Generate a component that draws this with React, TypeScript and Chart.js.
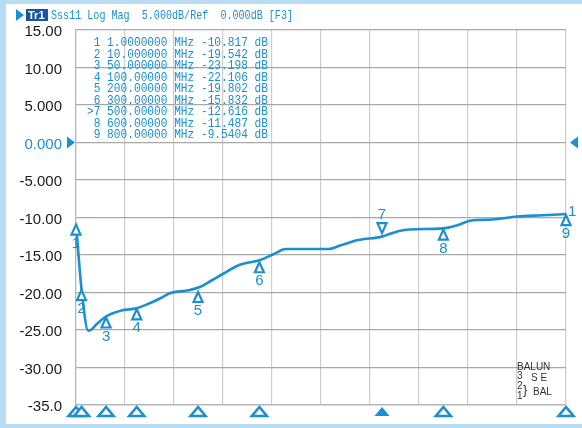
import React, { useEffect, useRef } from 'react';
import { Chart, registerables } from 'chart.js';

Chart.register(...registerables);

// Trace: S11 log magnitude (dB) vs frequency (MHz)
const freqMHz = [1, 10, 21, 25, 35, 50, 75, 100, 122, 138, 154, 185, 205, 224, 241, 268, 300, 323, 343, 413, 433, 461, 500, 512, 528, 545, 600, 620, 646, 680, 720, 762, 800];
const s11dB = [-10.82, -19.54, -25.1, -25.0, -24.2, -23.2, -22.4, -22.1, -21.4, -20.8, -20.1, -19.7, -19.2, -18.3, -17.5, -16.3, -15.7, -14.9, -14.2, -14.2, -13.7, -13.0, -12.55, -12.2, -11.8, -11.6, -11.45, -11.1, -10.4, -10.26, -9.87, -9.7, -9.54];

// Markers
const markerIds = ['1', '2', '3', '4', '5', '6', '7', '8', '9'];
const markerFreq = [1, 10, 50, 100, 200, 300, 500, 600, 800];
const markerDB = [-10.817, -19.542, -23.198, -22.106, -19.802, -15.832, -12.616, -11.487, -9.5404];
const markerFreqText = ['1.0000000', '10.000000', '50.000000', '100.00000', '200.00000', '300.00000', '500.00000', '600.00000', '800.00000'];
const markerDBText = ['-10.817', '-19.542', '-23.198', '-22.106', '-19.802', '-15.832', '-12.616', '-11.487', '-9.5404'];
const activeMarker = 6;

// Axis
const yTickValues = [15, 10, 5, 0, -5, -10, -15, -20, -25, -30, -35];
const yTickLabels = ['15.00', '10.00', '5.000', '0.000', '-5.000', '-10.00', '-15.00', '-20.00', '-25.00', '-30.00', '-35.0'];
const xStart = 1;
const xStop = 800;
const xDivisions = 10;

const headerText = 'Sss11 Log Mag  5.000dB/Ref  0.000dB [F3]';
const balunText = ['BALUN', '3', 'S E', '2', '}', 'BAL', '1'];

const BLUE = '#1b8fd2';
const DARK_BLUE = '#17559c';

const overlayPlugin = {
  id: 'vnaOverlay',
  beforeDraw(chart: any) {
    const ctx = chart.ctx;
    const W = chart.width;
    const H = chart.height;
    ctx.save();
    ctx.fillStyle = '#b7dcf3';
    ctx.fillRect(0, 0, W, H);
    ctx.fillStyle = '#ffffff';
    ctx.fillRect(6, 4, W - 6, H - 8);
    // header
    ctx.fillStyle = BLUE;
    ctx.beginPath();
    ctx.moveTo(16, 9);
    ctx.lineTo(16, 21);
    ctx.lineTo(24, 15);
    ctx.closePath();
    ctx.fill();
    ctx.fillStyle = DARK_BLUE;
    ctx.fillRect(26, 9, 22, 12);
    ctx.fillStyle = '#ffffff';
    ctx.font = 'bold 11px "Liberation Sans", Arial';
    ctx.textBaseline = 'middle';
    ctx.textAlign = 'left';
    ctx.fillText('Tr1', 28, 15.5, 18);
    ctx.fillStyle = BLUE;
    ctx.font = '13px "Liberation Mono", monospace';
    ctx.fillText(headerText, 51, 15.5, 242);
    ctx.restore();
  },
  afterDatasetsDraw(chart: any) {
    const ctx = chart.ctx;
    const xs = chart.scales.x;
    const ys = chart.scales.y;
    const area = chart.chartArea;
    ctx.save();
    // marker readout table
    ctx.fillStyle = BLUE;
    ctx.font = '13px "Liberation Mono", monospace';
    ctx.textBaseline = 'middle';
    ctx.textAlign = 'left';
    markerIds.forEach((id, i) => {
      const prefix = i === activeMarker ? '>' : ' ';
      const line = `${prefix}${id} ${markerFreqText[i]} MHz ${markerDBText[i]} dB`;
      ctx.fillText(line, 87, 43 + i * 11.5, 181);
    });

    // markers on trace
    ctx.strokeStyle = BLUE;
    ctx.lineWidth = 2.2;
    ctx.lineJoin = 'miter';
    ctx.font = '15px "Liberation Sans", Arial';
    ctx.textAlign = 'center';
    markerFreq.forEach((f, i) => {
      const px = xs.getPixelForValue(f);
      const py = ys.getPixelForValue(markerDB[i]);
      ctx.beginPath();
      if (i === activeMarker) {
        const ay = py - 4;
        ctx.moveTo(px, ay);
        ctx.lineTo(px - 4.5, ay - 10);
        ctx.lineTo(px + 4.5, ay - 10);
      } else {
        ctx.moveTo(px, py + 1);
        ctx.lineTo(px - 4.5, py + 11);
        ctx.lineTo(px + 4.5, py + 11);
      }
      ctx.closePath();
      ctx.fillStyle = '#ffffff';
      ctx.fill();
      ctx.stroke();
      ctx.fillStyle = BLUE;
      if (i === activeMarker) {
        ctx.fillText(markerIds[i], px, py - 22);
      } else {
        ctx.fillText(markerIds[i], px, py + 20);
      }
    });
    // trace number at end of trace
    ctx.textAlign = 'left';
    ctx.fillText('1', area.right + 2, ys.getPixelForValue(markerDB[markerDB.length - 1]) - 2);

    // bottom marker position indicators
    markerFreq.forEach((f, i) => {
      const px = xs.getPixelForValue(f);
      const ay = area.bottom + 2;
      ctx.beginPath();
      ctx.moveTo(px, ay);
      ctx.lineTo(px - 7.5, ay + 9);
      ctx.lineTo(px + 7.5, ay + 9);
      ctx.closePath();
      if (i === activeMarker) {
        ctx.fillStyle = BLUE;
        ctx.fill();
      } else {
        ctx.fillStyle = '#ffffff';
        ctx.fill();
        ctx.lineWidth = 2.6;
        ctx.stroke();
      }
    });

    // reference level arrows
    const y0 = ys.getPixelForValue(0);
    ctx.fillStyle = BLUE;
    ctx.beginPath();
    ctx.moveTo(67, y0 - 6);
    ctx.lineTo(67, y0 + 6);
    ctx.lineTo(75, y0);
    ctx.closePath();
    ctx.fill();
    ctx.beginPath();
    ctx.moveTo(area.right + 12, y0 - 6);
    ctx.lineTo(area.right + 12, y0 + 6);
    ctx.lineTo(area.right + 4, y0);
    ctx.closePath();
    ctx.fill();

    // BALUN legend
    ctx.fillStyle = '#333333';
    ctx.font = '10px "Liberation Sans", Arial';
    ctx.textAlign = 'left';
    ctx.fillText(balunText[0], 517, 367);
    ctx.fillText(balunText[1], 517, 376);
    ctx.fillText(balunText[2], 531, 378);
    ctx.fillText(balunText[3], 517, 386);
    ctx.font = '13px "Liberation Sans", Arial';
    ctx.fillText(balunText[4], 523, 390);
    ctx.font = '10px "Liberation Sans", Arial';
    ctx.fillText(balunText[5], 533, 392);
    ctx.fillText(balunText[6], 517, 396);
    ctx.restore();
  },
};

export default function App() {
  const canvasRef = useRef<HTMLCanvasElement | null>(null);

  useEffect(() => {
    if (!canvasRef.current) return;
    const chart = new Chart(canvasRef.current, {
      type: 'line',
      data: {
        datasets: [
          {
            data: freqMHz.map((f, i) => ({ x: f, y: s11dB[i] })),
            borderColor: BLUE,
            borderWidth: 2.6,
            pointRadius: 0,
            cubicInterpolationMode: 'monotone',
            fill: false,
          },
        ],
      },
      options: {
        responsive: false,
        animation: false,
        devicePixelRatio: 1,
        layout: { padding: { top: 30, right: 16, left: 0, bottom: 0 } },
        plugins: { legend: { display: false }, tooltip: { enabled: false } },
        scales: {
          x: {
            type: 'linear',
            min: xStart,
            max: xStop,
            afterBuildTicks: (axis: any) => {
              axis.ticks = Array.from({ length: xDivisions + 1 }, (_, i) => ({
                value: xStart + (i * (xStop - xStart)) / xDivisions,
              }));
            },
            ticks: { display: false },
            grid: { color: '#cdcdcd', lineWidth: 1.2, drawTicks: false },
            border: { display: true, color: '#b5b5b5', width: 1.2 },
            afterFit: (s: any) => {
              s.height = 18;
            },
          },
          y: {
            type: 'linear',
            min: -35,
            max: 15,
            afterBuildTicks: (axis: any) => {
              axis.ticks = yTickValues.map((v) => ({ value: v }));
            },
            ticks: {
              padding: 14,
              labelOffset: 2,
              font: { family: '"Liberation Sans", Arial', size: 15 },
              color: (c: any) => (c.tick && c.tick.value === 0 ? BLUE : '#1a1a1a'),
              callback: (v: any) => {
                const idx = yTickValues.indexOf(Number(v));
                return idx >= 0 ? yTickLabels[idx] : '';
              },
            },
            grid: { color: '#a9a9a9', lineWidth: 1.2, drawTicks: false },
            border: { display: true, color: '#b5b5b5', width: 1.2 },
            afterFit: (s: any) => {
              s.width = 76;
            },
          },
        },
      },
      plugins: [overlayPlugin],
    } as any);
    return () => chart.destroy();
  }, []);

  return (
    <div style={{ position: 'fixed', left: 0, top: 0, width: 582, height: 428 }}>
      <canvas ref={canvasRef} width={582} height={428} style={{ display: 'block' }} />
    </div>
  );
}
